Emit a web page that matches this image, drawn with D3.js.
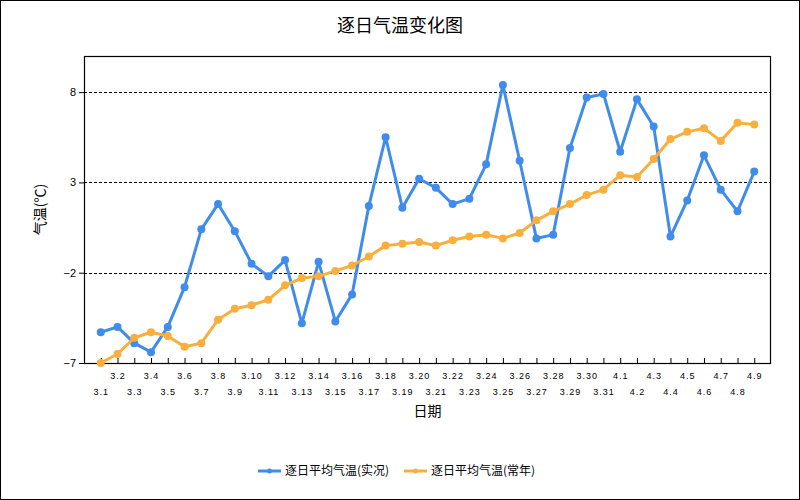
<!DOCTYPE html>
<html>
<head>
<meta charset="utf-8">
<script src="https://cdn.jsdelivr.net/npm/d3@7"></script>
<style>
  body { margin: 0; background: #fff; }
  svg { display: block; font-family: "Noto Sans CJK SC", "DejaVu Sans", sans-serif; }
</style>
</head>
<body>
<div id="chart"></div>
<script>
(() => {
    const dates = ['3.1', '3.2', '3.3', '3.4', '3.5', '3.6', '3.7', '3.8', '3.9', '3.10',
        '3.11', '3.12', '3.13', '3.14', '3.15', '3.16', '3.17', '3.18', '3.19', '3.20',
        '3.21', '3.22', '3.23', '3.24', '3.25', '3.26', '3.27', '3.28', '3.29', '3.30',
        '3.31', '4.1', '4.2', '4.3', '4.4', '4.5', '4.6', '4.7', '4.8', '4.9'];

    const actual = [-5.3, -5.0, -5.9, -6.4, -5.0, -2.8, 0.4, 1.8, 0.3, -1.5,
        -2.2, -1.3, -4.8, -1.4, -4.7, -3.2, 1.7, 5.5, 1.6, 3.2,
        2.7, 1.8, 2.1, 4.0, 8.4, 4.2, -0.1, 0.1, 4.9, 7.7,
        7.9, 4.7, 7.6, 6.1, 0.0, 2.0, 4.5, 2.6, 1.4, 3.6];

    const normal = [-7.0, -6.5, -5.6, -5.3, -5.5, -6.1, -5.9, -4.6, -4.0, -3.8,
        -3.5, -2.7, -2.3, -2.2, -1.9, -1.6, -1.1, -0.5, -0.4, -0.3,
        -0.5, -0.2, 0.0, 0.1, -0.1, 0.2, 0.9, 1.4, 1.8, 2.3,
        2.6, 3.4, 3.3, 4.3, 5.4, 5.8, 6.0, 5.3, 6.3, 6.2];

    const yTicks = [-7, -2, 3, 8];

    const series = [
        { name: '逐日平均气温(实况)', values: actual, color: '#3f8ced' },
        { name: '逐日平均气温(常年)', values: normal, color: '#f9af3e' },
    ];

    const width = 800;
    const height = 500;
    const margin = { top: 56, right: 29, bottom: 137, left: 84 };
    const innerW = width - margin.left - margin.right;
    const innerH = height - margin.top - margin.bottom;

    const svg = d3.select('#chart')
        .append('svg')
        .attr('width', width)
        .attr('height', height);

    // outer frame
    svg.append('rect')
        .attr('x', 0.5).attr('y', 0.5)
        .attr('width', width - 1).attr('height', height - 1)
        .attr('fill', 'none').attr('stroke', '#000');

    svg.append('text')
        .attr('x', 400).attr('y', 32)
        .attr('text-anchor', 'middle')
        .attr('font-size', 18)
        .text('逐日气温变化图');

    const g = svg.append('g')
        .attr('transform', `translate(${margin.left},${margin.top})`);

    const x = d3.scalePoint()
        .domain(dates)
        .range([0, innerW])
        .padding(1);

    const y = d3.scaleLinear()
        .domain([-7, 10])
        .range([innerH, 0]);

    // dashed grid lines
    g.selectAll('.grid')
        .data(yTicks.filter(d => d !== -7))
        .enter()
        .append('line')
        .attr('x1', 0).attr('x2', innerW)
        .attr('y1', d => Math.round(y(d)) + 0.5)
        .attr('y2', d => Math.round(y(d)) + 0.5)
        .attr('stroke', '#000')
        .attr('stroke-dasharray', '3,2');

    // y axis
    const yAxis = g.append('g')
        .call(d3.axisLeft(y).tickValues(yTicks).tickSize(5).tickSizeOuter(0).tickFormat(d3.format('d')));
    yAxis.select('.domain').remove();
    yAxis.selectAll('text').attr('font-size', 11).attr('fill', '#000').attr('font-family', 'Arial, "Liberation Sans", sans-serif');

    // x axis ticks inside
    const xAxis = g.append('g')
        .attr('transform', `translate(0,${innerH})`)
        .call(d3.axisBottom(x).tickSize(-5).tickSizeOuter(0).tickFormat(''));
    xAxis.select('.domain').remove();

    xAxis.selectAll('.tick')
        .append('text')
        .attr('fill', '#000')
        .attr('font-size', 9)
        .attr('font-family', 'Arial, "Liberation Sans", sans-serif')
        .attr('letter-spacing', 1)
        .attr('text-anchor', 'middle')
        .attr('y', (d, i) => i % 2 === 1 ? 16 : 32)
        .text(d => d);

    // plot frame
    g.append('rect')
        .attr('x', 0.5).attr('y', 0.5)
        .attr('width', innerW - 1).attr('height', innerH)
        .attr('fill', 'none').attr('stroke', '#000').attr('stroke-width', 1.2);

    const line = d3.line()
        .x((d, i) => x(dates[i]))
        .y(d => y(d));

    series.forEach(s => {
        g.append('path')
            .datum(s.values)
            .attr('fill', 'none')
            .attr('stroke', s.color)
            .attr('stroke-width', 3)
            .attr('stroke-linejoin', 'round')
            .attr('d', line);

        g.selectAll(null)
            .data(s.values)
            .enter()
            .append('circle')
            .attr('cx', (d, i) => x(dates[i]))
            .attr('cy', d => y(d))
            .attr('r', 4)
            .attr('fill', s.color);
    });

    // axis titles
    svg.append('text')
        .attr('x', margin.left + innerW / 2)
        .attr('y', 416)
        .attr('text-anchor', 'middle')
        .attr('font-size', 14)
        .text('日期');

    svg.append('text')
        .attr('transform', `translate(45,${margin.top + innerH / 2}) rotate(-90)`)
        .attr('text-anchor', 'middle')
        .attr('font-size', 14)
        .text('气温(℃)');

    // legend
    const legendX = [258, 404];
    const legend = svg.selectAll('.legend')
        .data(series)
        .enter()
        .append('g')
        .attr('transform', (d, i) => `translate(${legendX[i]},471)`);

    legend.append('line')
        .attr('x1', 0).attr('x2', 23)
        .attr('stroke', d => d.color)
        .attr('stroke-width', 3);
    legend.append('circle')
        .attr('cx', 11.5).attr('r', 2.5)
        .attr('fill', d => d.color);
    legend.append('text')
        .attr('x', 27).attr('y', 4)
        .attr('font-size', 12)
        .text(d => d.name);
})();
</script>
</body>
</html>
